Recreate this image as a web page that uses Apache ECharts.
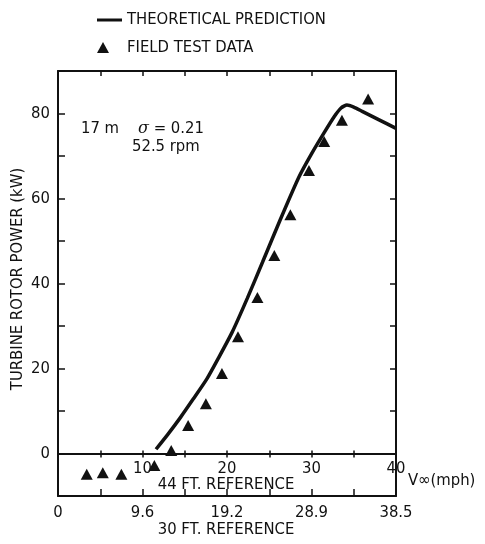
<!DOCTYPE html>
<html>
<head>
<meta charset="utf-8">
<script src="https://cdn.jsdelivr.net/npm/echarts@6/dist/echarts.min.js"></script>
<style>
  html, body { margin: 0; padding: 0; background: #fff; }
  #chart { width: 485px; height: 544px; }
</style>
</head>
<body>
<div id="chart"></div>
<script>
// Field test points: wind speed at 44 ft (mph) and rotor power (kW)
const fieldMph = [3.4, 5.3, 7.5, 11.4, 13.4, 15.4, 17.5, 19.4, 21.3, 23.6, 25.6, 27.5, 29.7, 31.5, 33.6, 36.7];
const fieldKw  = [-4.9, -4.5, -4.9, -2.8, 0.7, 6.6, 11.7, 18.8, 27.5, 36.7, 46.6, 56.2, 66.6, 73.4, 78.4, 83.4];

// Theoretical power curve
const theoryMph = [11.6, 13, 14.5, 16, 17.6, 19, 20.6, 22.4, 24.2, 26.3, 28.5, 30, 31.5, 32.7, 33.5, 34.2, 35, 36, 38, 40];
const theoryKw  = [1.0, 4.5, 8.5, 12.8, 17.5, 22.5, 28.5, 36.5, 45, 55, 65, 70.5, 75.5, 79.3, 81.3, 82, 81.5, 80.5, 78.5, 76.5];

// Axis ticks
const mph44Ticks = [0, 10, 20, 30, 40];
const mph30Labels = ['0', '9.6', '19.2', '28.9', '38.5'];
const kwLabels = [0, 20, 40, 60, 80];

const FONT = '"Liberation Sans Narrow", "DejaVu Sans Condensed", "Noto Sans", sans-serif';
const INK = '#111';
const FS = 16.5;

// plot box
const GRID = { left: 58, top: 71, width: 338, height: 425, outerBoundsMode: 'none', containLabel: false };
const Y_MIN = -10, Y_MAX = 90;
// distance from the bottom border up to the zero-power line
const zeroOffset = -GRID.height * (0 - Y_MIN) / (Y_MAX - Y_MIN);

const chart = echarts.init(document.getElementById('chart'), null, { renderer: 'canvas' });

const baseX = {
  type: 'value', min: 0, max: 40, interval: 10,
  splitLine: { show: false }, minorSplitLine: { show: false }
};
const baseY = {
  type: 'value', min: Y_MIN, max: Y_MAX, interval: 10,
  splitLine: { show: false }
};
const tickStyle = { color: INK, width: 1.5 };

chart.setOption({
  backgroundColor: '#fff',
  animation: false,
  textStyle: { fontFamily: FONT, color: INK },
  grid: GRID,
  legend: [
    {
      data: [{ name: 'THEORETICAL PREDICTION', icon: 'rect' }],
      left: 97, top: 11.5, padding: 0,
      itemWidth: 25, itemHeight: 3,
      textStyle: { fontFamily: FONT, fontSize: FS, color: INK }
    },
    {
      data: [{ name: 'FIELD TEST DATA', icon: 'triangle' }],
      left: 97, top: 39, padding: 0,
      itemWidth: 12, itemHeight: 11,
      textStyle: { fontFamily: FONT, fontSize: FS, color: INK, padding: [0, 0, 0, 13] }
    }
  ],
  xAxis: [
    // 44 ft reference scale along the zero-power line (labels and downward ticks)
    Object.assign({}, baseX, {
      position: 'bottom', offset: zeroOffset,
      axisLine: { onZero: false, lineStyle: { color: INK, width: 2 } },
      axisTick: { show: true, inside: false, length: 4, lineStyle: tickStyle },
      minorTick: { show: true, splitNumber: 2, length: 4, lineStyle: tickStyle },
      axisLabel: {
        margin: 7, fontSize: FS, color: INK, fontFamily: FONT,
        formatter: v => (v === 0 ? '' : String(v))
      }
    }),
    // upward half of the crossing ticks on the zero-power line
    Object.assign({}, baseX, {
      position: 'bottom', offset: zeroOffset,
      axisLine: { onZero: false, lineStyle: { color: INK, width: 2 } },
      axisTick: { show: true, inside: true, length: 3, lineStyle: tickStyle },
      minorTick: { show: true, splitNumber: 2, length: 3, lineStyle: tickStyle },
      axisLabel: { show: false }
    }),
    // 30 ft reference scale on the bottom border
    Object.assign({}, baseX, {
      position: 'bottom',
      axisLine: { onZero: false, lineStyle: { color: INK, width: 2 } },
      axisTick: { show: true, inside: true, length: 7, lineStyle: tickStyle },
      minorTick: { show: true, splitNumber: 2, length: 7, lineStyle: tickStyle },
      axisLabel: {
        margin: 8, fontSize: FS, color: INK, fontFamily: FONT,
        formatter: v => mph30Labels[mph44Ticks.indexOf(v)] || ''
      }
    }),
    // top border
    Object.assign({}, baseX, {
      position: 'top', interval: 5,
      axisLine: { onZero: false, lineStyle: { color: INK, width: 2 } },
      axisTick: { show: true, inside: true, length: 5, lineStyle: tickStyle },
      axisLabel: { show: false }
    })
  ],
  yAxis: [
    Object.assign({}, baseY, {
      position: 'left',
      axisLine: { onZero: false, lineStyle: { color: INK, width: 2 } },
      axisTick: { show: true, inside: true, length: 7, lineStyle: tickStyle },
      axisLabel: {
        margin: 8, fontSize: FS, color: INK, fontFamily: FONT,
        formatter: v => (kwLabels.indexOf(v) >= 0 ? String(v) : '')
      }
    }),
    Object.assign({}, baseY, {
      position: 'right',
      axisLine: { onZero: false, lineStyle: { color: INK, width: 2 } },
      axisTick: { show: true, inside: true, length: 6, lineStyle: tickStyle },
      axisLabel: { show: false }
    })
  ],
  series: [
    {
      name: 'THEORETICAL PREDICTION',
      type: 'line',
      xAxisIndex: 0, yAxisIndex: 0,
      data: theoryMph.map((x, i) => [x, theoryKw[i]]),
      symbol: 'none',
      smooth: 0.2,
      lineStyle: { color: INK, width: 3.5 },
      itemStyle: { color: INK },
      z: 3
    },
    {
      name: 'FIELD TEST DATA',
      type: 'scatter',
      xAxisIndex: 0, yAxisIndex: 0,
      data: fieldMph.map((x, i) => [x, fieldKw[i]]),
      symbol: 'triangle',
      symbolSize: [12, 11],
      itemStyle: { color: INK, opacity: 1 },
      z: 4
    }
  ],
  graphic: [
    {
      type: 'text', x: 18, y: 279, rotation: Math.PI / 2,
      style: { text: 'TURBINE ROTOR POWER (kW)', font: FS + 'px ' + FONT, fill: INK, align: 'center', verticalAlign: 'middle' }
    },
    { type: 'text', left: 81, top: 120, style: { text: '17 m', font: FS + 'px ' + FONT, fill: INK } },
    {
      type: 'text', left: 138, top: 120,
      style: {
        text: '{s|σ} = 0.21',
        font: FS + 'px ' + FONT, fill: INK,
        rich: { s: { fontStyle: 'italic', fontFamily: 'DejaVu Serif', fontSize: 16, fill: INK } }
      }
    },
    { type: 'text', left: 132, top: 138, style: { text: '52.5 rpm', font: FS + 'px ' + FONT, fill: INK } },
    { type: 'text', left: 408, top: 472, style: { text: 'V∞(mph)', font: FS + 'px ' + FONT, fill: INK } },
    { type: 'text', x: 226, y: 485, style: { text: '44 FT. REFERENCE', font: FS + 'px ' + FONT, fill: INK, align: 'center', verticalAlign: 'middle' } },
    { type: 'text', x: 226, y: 530, style: { text: '30 FT. REFERENCE', font: FS + 'px ' + FONT, fill: INK, align: 'center', verticalAlign: 'middle' } }
  ]
});
</script>
</body>
</html>
